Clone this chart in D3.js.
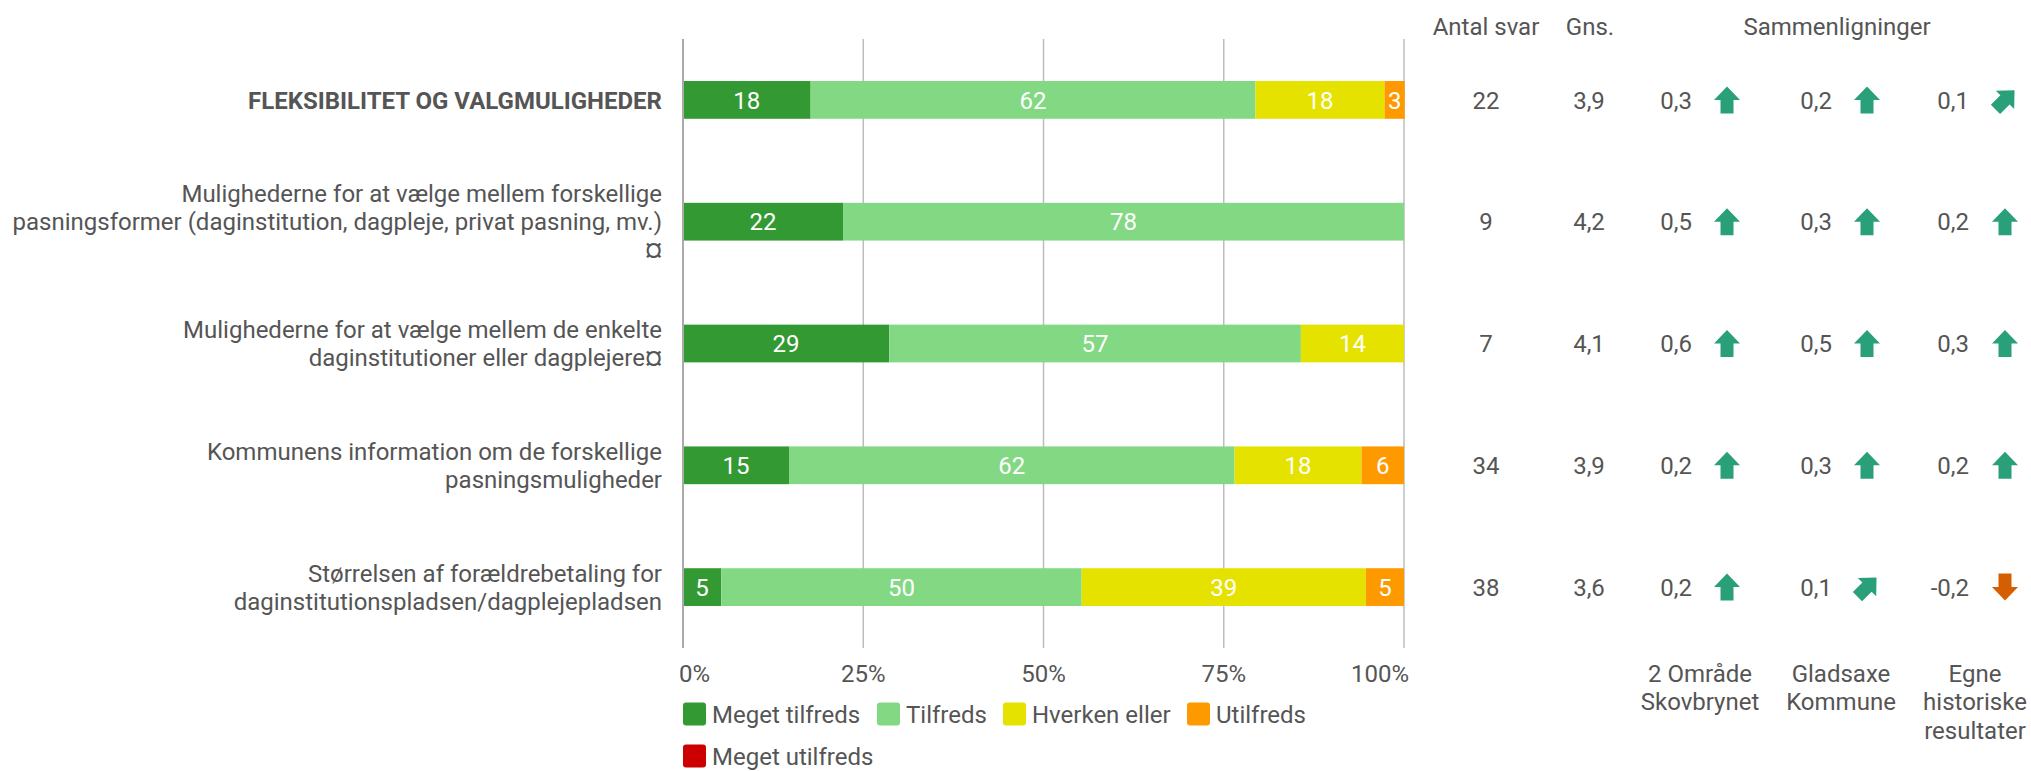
<!DOCTYPE html>
<html>
<head>
<meta charset="utf-8">
<script src="https://cdn.jsdelivr.net/npm/d3@7"></script>
<style>
  html, body { margin: 0; padding: 0; background: #fff; }
  svg { display: block; font-family: Roboto, "Noto Sans", sans-serif; }
</style>
</head>
<body>
<svg id="chart" width="2031" height="771"></svg>
<script>
// ---------- DATA ----------
const categories = [
  ["FLEKSIBILITET OG VALGMULIGHEDER"],
  ["Mulighederne for at vælge mellem forskellige", "pasningsformer (daginstitution, dagpleje, privat pasning, mv.)", "¤"],
  ["Mulighederne for at vælge mellem de enkelte", "daginstitutioner eller dagplejere¤"],
  ["Kommunens information om de forskellige", "pasningsmuligheder"],
  ["Størrelsen af forældrebetaling for", "daginstitutionspladsen/dagplejepladsen"]
];
const seriesNames = ["Meget tilfreds", "Tilfreds", "Hverken eller", "Utilfreds", "Meget utilfreds"];
const seriesColors = ["#339933", "#83d883", "#e6e200", "#ff9900", "#cc0000"];
const megetTilfreds  = [17.7, 22.2, 28.6, 14.7, 5.3];
const tilfreds       = [61.7, 77.8, 57.1, 61.8, 50.0];
const hverkenEller   = [17.9, 0,    14.3, 17.6, 39.4];
const utilfreds      = [2.8,  0,    0,    5.9,  5.3];
const megetUtilfreds = [0,    0,    0,    0,    0];
const antalSvar = [22, 9, 7, 34, 38];
const gns = ["3,9", "4,2", "4,1", "3,9", "3,6"];
const compNames = [["2 Område", "Skovbrynet"], ["Gladsaxe", "Kommune"], ["Egne", "historiske", "resultater"]];
const compSkovbrynet = [0.3, 0.5, 0.6, 0.2, 0.2];
const compGladsaxe   = [0.2, 0.3, 0.5, 0.3, 0.1];
const compHistorisk  = [0.1, 0.2, 0.3, 0.2, -0.2];
const dirSkovbrynet = ["up", "up", "up", "up", "up"];
const dirGladsaxe   = ["up", "up", "up", "up", "upright"];
const dirHistorisk  = ["upright", "up", "up", "up", "down"];
const xTicks = [0, 25, 50, 75, 100];
const headers = { antal: "Antal svar", gns: "Gns.", comp: "Sammenligninger" };

// ---------- LAYOUT ----------
const svg = d3.select("#chart");
const textColor = "#555555";
const fontSize = 24;
const series = [megetTilfreds, tilfreds, hverkenEller, utilfreds, megetUtilfreds];

const x = d3.scaleLinear().domain([0, 100]).range([683, 1404]);
const y = d3.scaleBand().domain(d3.range(categories.length)).range([39, 648])
  .paddingInner(0.69).paddingOuter(0.345);

// gridlines
svg.append("g").selectAll("line").data(xTicks.slice(1)).join("line")
  .attr("x1", d => x(d)).attr("x2", d => x(d))
  .attr("y1", 39).attr("y2", 648)
  .attr("stroke", "#bdbdbd").attr("stroke-width", 1.5);

// stacked bars
const rows = categories.map((c, i) => {
  let acc = 0;
  return series.map((s, k) => { const v = s[i]; const seg = { i, k, x0: acc, x1: acc + v, v }; acc += v; return seg; });
});
const segs = rows.flat().filter(d => d.v > 0);
svg.append("g").selectAll("rect").data(segs).join("rect")
  .attr("x", d => x(d.x0)).attr("width", d => x(d.x1) - x(d.x0))
  .attr("y", d => y(d.i)).attr("height", y.bandwidth())
  .attr("fill", d => seriesColors[d.k]);
svg.append("g").selectAll("text").data(segs).join("text")
  .attr("x", d => (x(d.x0) + x(d.x1)) / 2)
  .attr("y", d => y(d.i) + y.bandwidth() / 2)
  .attr("dy", "0.36em").attr("text-anchor", "middle")
  .attr("fill", "#fff").attr("font-size", fontSize)
  .text(d => Math.round(d.v));

// zero axis line
svg.append("line").attr("x1", x(0)).attr("x2", x(0)).attr("y1", 39).attr("y2", 648)
  .attr("stroke", "#aaaaaa").attr("stroke-width", 2);

// x tick labels
svg.append("g").selectAll("text").data(xTicks).join("text")
  .attr("x", d => x(d)).attr("y", 673).attr("dy", "0.36em")
  .attr("text-anchor", (d, i) => i === 0 ? "start" : (i === xTicks.length - 1 ? "end" : "middle"))
  .attr("dx", (d, i) => i === 0 ? -4 : (i === xTicks.length - 1 ? 5 : 0))
  .attr("fill", textColor).attr("font-size", fontSize)
  .text(d => d + "%");

// category labels
const lineH = 28;
const catG = svg.append("g").selectAll("text").data(categories).join("text")
  .attr("text-anchor", "end").attr("fill", textColor).attr("font-size", fontSize)
  .attr("font-weight", (d, i) => i === 0 ? "bold" : "normal");
catG.each(function (lines, i) {
  const cy = y(i) + y.bandwidth() / 2;
  const start = cy - (lines.length - 1) * lineH / 2;
  d3.select(this).selectAll("tspan").data(lines).join("tspan")
    .attr("x", 662).attr("y", (d, j) => start + j * lineH).attr("dy", "0.36em").text(d => d);
});

// headers
const colAntal = 1486, colGns = 1589;
const valueRight = [1692, 1832, 1969];
const arrowCx = [1727, 1867, 2005];
const labelCx = [1700, 1841, 1975];
svg.append("text").attr("x", colAntal).attr("y", 26).attr("dy", "0.36em").attr("text-anchor", "middle")
  .attr("fill", textColor).attr("font-size", fontSize).text(headers.antal);
svg.append("text").attr("x", 1590).attr("y", 26).attr("dy", "0.36em").attr("text-anchor", "middle")
  .attr("fill", textColor).attr("font-size", fontSize).text(headers.gns);
svg.append("text").attr("x", 1837).attr("y", 26).attr("dy", "0.36em").attr("text-anchor", "middle")
  .attr("fill", textColor).attr("font-size", fontSize).text(headers.comp);

// antal / gns values
svg.append("g").selectAll("text").data(antalSvar).join("text")
  .attr("x", colAntal).attr("y", (d, i) => y(i) + y.bandwidth() / 2).attr("dy", "0.36em")
  .attr("text-anchor", "middle").attr("fill", textColor).attr("font-size", fontSize).text(d => d);
svg.append("g").selectAll("text").data(gns).join("text")
  .attr("x", colGns).attr("y", (d, i) => y(i) + y.bandwidth() / 2).attr("dy", "0.36em")
  .attr("text-anchor", "middle").attr("fill", textColor).attr("font-size", fontSize).text(d => d);

// comparisons
const arrowUp = "M0,-13.5 L13,0 L6.5,0 L6.5,13.5 L-6.5,13.5 L-6.5,0 L-13,0 Z";
const fmt = v => v.toFixed(1).replace(".", ",");
const comps = [[compSkovbrynet, dirSkovbrynet], [compGladsaxe, dirGladsaxe], [compHistorisk, dirHistorisk]];
comps.forEach(([vals, dirs], c) => {
  const g = svg.append("g");
  g.selectAll("text").data(vals).join("text")
    .attr("x", valueRight[c]).attr("y", (d, i) => y(i) + y.bandwidth() / 2).attr("dy", "0.36em")
    .attr("text-anchor", "end").attr("fill", textColor).attr("font-size", fontSize).text(d => fmt(d));
  g.selectAll("path").data(dirs).join("path")
    .attr("d", arrowUp)
    .attr("transform", (d, i) => {
      const rot = d === "up" ? 0 : d === "upright" ? 45 : 180;
      return `translate(${arrowCx[c]},${y(i) + y.bandwidth() / 2}) rotate(${rot})`;
    })
    .attr("fill", d => d === "down" ? "#d55e00" : "#2aa07a");
  const t = svg.append("text").attr("text-anchor", "middle").attr("fill", textColor).attr("font-size", fontSize);
  t.selectAll("tspan").data(compNames[c]).join("tspan")
    .attr("x", labelCx[c]).attr("y", (d, j) => 673 + j * 28.5).attr("dy", "0.36em").text(d => d);
});

// legend
const legendPos = [[683, 714], [877, 714], [1003, 714], [1187, 714], [683, 756]];
const lg = svg.append("g").selectAll("g").data(seriesNames).join("g")
  .attr("transform", (d, i) => `translate(${legendPos[i][0]},${legendPos[i][1]})`);
lg.append("rect").attr("x", 0).attr("y", -11.5).attr("width", 23).attr("height", 23).attr("rx", 3)
  .attr("fill", (d, i) => seriesColors[i]);
lg.append("text").attr("x", 29).attr("dy", "0.36em").attr("fill", textColor).attr("font-size", fontSize).text(d => d);
</script>
</body>
</html>
